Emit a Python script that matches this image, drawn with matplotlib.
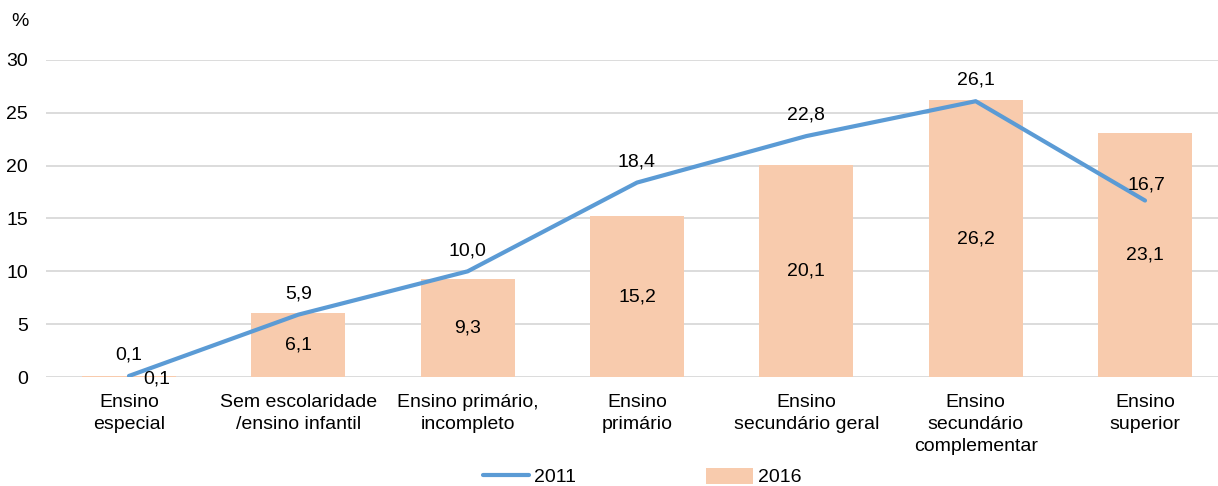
import matplotlib
matplotlib.use("Agg")
import matplotlib.pyplot as plt
from matplotlib.patches import Patch
from matplotlib.lines import Line2D

categories = ["Ensino\nespecial", "Sem escolaridade\n/ensino infantil", "Ensino primário,\nincompleto",
              "Ensino\nprimário", "Ensino\nsecundário geral", "Ensino\nsecundário\ncomplementar",
              "Ensino\nsuperior"]
values_2011 = [0.1, 5.9, 10.0, 18.4, 22.8, 26.1, 16.7]
values_2016 = [0.1, 6.1, 9.3, 15.2, 20.1, 26.2, 23.1]
yticks = [0, 5, 10, 15, 20, 25, 30]

plt.rcParams['font.family'] = ['Liberation Sans', 'DejaVu Sans']
FS = 14
W, H = 1218, 486
fig = plt.figure(figsize=(W / 100, H / 100), dpi=100)
ax = fig.add_axes([46 / W, 109 / H, (W - 46) / W, (377 - 60) / H])

x = list(range(len(categories)))
ax.bar(x, values_2016, width=0.555, color='#F8CBAD', zorder=2)
ax.plot(x, values_2011, color='#5B9BD5', lw=3.0, solid_capstyle='round', zorder=3)

ax.set_xlim(-0.49, 6.431)
ax.set_ylim(0, 30)
ax.set_yticks(yticks)
ax.set_yticklabels([str(v) for v in yticks], fontsize=FS)
ax.set_xticks(x)
ax.set_xticklabels(categories, fontsize=FS, linespacing=1.4)
ax.tick_params(axis='both', length=0)
ax.tick_params(axis='y', pad=13)
ax.tick_params(axis='x', pad=12)
ax.grid(axis='y', color='#D9D9D9', lw=1.3, zorder=0)
for s in ax.spines.values():
    s.set_visible(False)
ax.set_axisbelow(True)

fmt = lambda v: f"{v:.1f}".replace('.', ',')

# line labels
for i, v in enumerate(values_2011):
    dx, dy = 0, 15
    if i == len(values_2011) - 1:
        dx, dy = 1, 11
    ax.annotate(fmt(v), (i, v), xytext=(dx, dy), textcoords='offset points',
                ha='center', va='center', fontsize=FS, annotation_clip=False, zorder=4)

# bar labels
for i, v in enumerate(values_2016):
    if i == 0:
        ax.annotate(fmt(v), (i, v), xytext=(20, -2), textcoords='offset points',
                    ha='center', va='center', fontsize=FS, annotation_clip=False, zorder=4)
    else:
        ax.text(i, v / 2, fmt(v), ha='center', va='center', fontsize=FS, zorder=4)

fig.text(20 / W, 1 - 22 / H, "%", ha='center', va='center', fontsize=FS)

handles = [Line2D([0], [0], color='#5B9BD5', lw=3.0, solid_capstyle='round'),
           Patch(facecolor='#F8CBAD', edgecolor='none')]
fig.legend(handles, ['2011', '2016'], loc='center', bbox_to_anchor=(642 / W, 1 - 477 / H),
           ncol=2, frameon=False, fontsize=FS, handlelength=2.4, handleheight=0.9,
           handletextpad=0.25, columnspacing=6.7, borderpad=0)

fig.savefig("out.png", dpi=100)
